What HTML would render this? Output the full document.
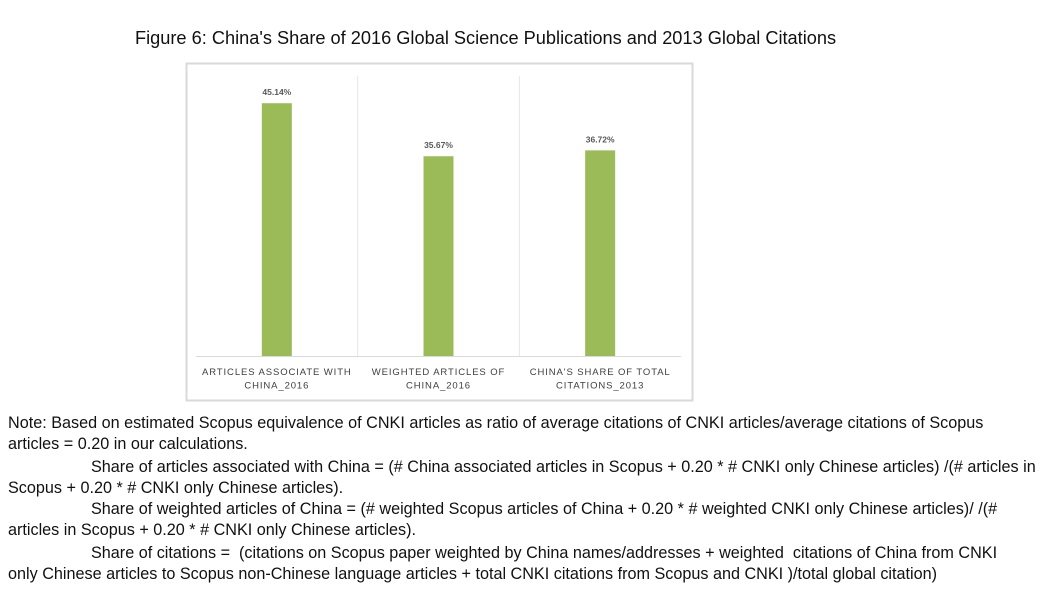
<!DOCTYPE html>
<html><head><meta charset="utf-8"><style>
body{margin:0;width:1043px;height:604px;background:#fff;font-family:"Liberation Sans",sans-serif;position:relative;overflow:hidden}
.t{position:absolute;white-space:nowrap;color:#111;font-size:16.2px}
</style></head><body>
<div class="t" style="left:135px;top:28px;font-size:18.2px;">Figure 6: China's Share of 2016 Global Science Publications and 2013 Global Citations</div>
<svg width="1043" height="604" style="position:absolute;left:0;top:0" id="chart"></svg>
<div>
<div class="t" style="left:8px;top:414px">Note: Based on estimated Scopus equivalence of CNKI articles as ratio of average citations of CNKI articles/average citations of Scopus</div>
<div class="t" style="left:8px;top:435px">articles = 0.20 in our calculations.</div>
<div class="t" style="left:91px;top:458px">Share of articles associated with China = (# China associated articles in Scopus + 0.20 * # CNKI only Chinese articles) /(# articles in</div>
<div class="t" style="left:8px;top:479px">Scopus + 0.20 * # CNKI only Chinese articles).</div>
<div class="t" style="left:91px;top:500px">Share of weighted articles of China = (# weighted Scopus articles of China + 0.20 * # weighted CNKI only Chinese articles)/ /(#</div>
<div class="t" style="left:8px;top:521px">articles in Scopus + 0.20 * # CNKI only Chinese articles).</div>
<div class="t" style="left:91px;top:544px">Share of citations =&nbsp; (citations on Scopus paper weighted by China names/addresses + weighted&nbsp; citations of China from CNKI</div>
<div class="t" style="left:8px;top:565px">only Chinese articles to Scopus non-Chinese language articles + total CNKI citations from Scopus and CNKI )/total global citation)</div>
</div>
<script>
const categories=[["ARTICLES ASSOCIATE WITH","CHINA_2016"],["WEIGHTED ARTICLES OF","CHINA_2016"],["CHINA'S SHARE OF TOTAL","CITATIONS_2013"]];
const values=[45.14,35.67,36.72];
const valueLabels=["45.14%","35.67%","36.72%"];
const yMax=50;
const svg=document.getElementById('chart');
const NS="http://www.w3.org/2000/svg";
const L=196,R=681,T=76,B=356,bw=30;
const band=(R-L)/categories.length;
const y=v=>B-(v/yMax)*(B-T);
const xc=i=>L+band*(i+0.5);
function mk(tag,attrs){const e=document.createElementNS(NS,tag);for(const k in attrs)e.setAttribute(k,attrs[k]);svg.appendChild(e);return e;}
const frame=mk('rect',{x:186.5,y:63.5,width:506,height:337,fill:'none',stroke:'#d9d9d9','stroke-width':2});


for(let i=1;i<categories.length;i++){
const d=mk('line',{x1:L+band*i,x2:L+band*i,y1:T,y2:B,stroke:'#e6e6e6'});


}
const ax=mk('line',{x1:L,x2:R,y1:B+0.5,y2:B+0.5,stroke:'#d9d9d9'});


values.forEach((v,i)=>{
const r=mk('rect',{x:xc(i)-bw/2,y:y(v),width:bw,height:B-y(v),fill:'#9bbb59'});


const t=mk('text',{x:xc(i),y:y(v)-8,'text-anchor':'middle','font-size':8.5,fill:'#595959','font-weight':'bold','font-family':'Liberation Sans, sans-serif'});
t.textContent=valueLabels[i];


categories[i].forEach((ln,j)=>{
const c=mk('text',{x:xc(i),y:375+j*13.5,'text-anchor':'middle','font-size':9.5,fill:'#404040','letter-spacing':0.9,'font-family':'Liberation Sans, sans-serif'});
c.textContent=ln;


});
});
</script>
</body></html>
